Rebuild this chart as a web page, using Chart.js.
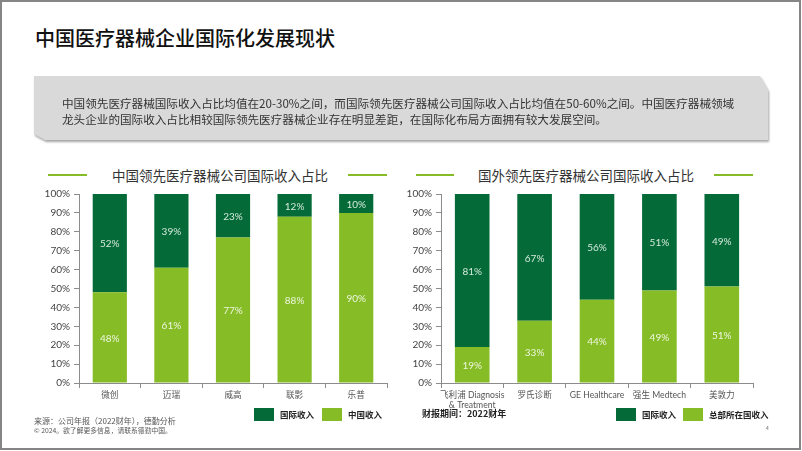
<!DOCTYPE html>
<html>
<head>
<meta charset="utf-8">
<script src="https://cdn.jsdelivr.net/npm/chart.js@4.4.1/dist/chart.umd.min.js"></script>
<style>
  html, body { margin:0; padding:0; background:#fff; }
  body { width:802px; height:451px; position:relative; overflow:hidden; font-family: Lato, 'Noto Sans CJK SC', sans-serif; }
  .frame { position:absolute; left:0; top:0; width:801px; height:450px; border:2px solid #858585; box-sizing:border-box; }
  .title { position:absolute; left:35px; top:24px; font-size:20px; font-weight:500; color:#111; font-family:'Noto Sans CJK SC', sans-serif; white-space:nowrap; line-height:28px; }
  .boxwrap { position:absolute; left:34px; top:76px; width:734px; height:64px; filter: drop-shadow(1px 2px 1px rgba(0,0,0,0.35)); }
  .box { width:100%; height:100%; background:#d9d9d9; clip-path: polygon(0 0, 726px 0, 734px 14px, 734px 100%, 11px 100%, 0 58px); }
  .boxtext { position:absolute; left:28px; top:19px; font-size:11.6px; line-height:16px; color:#333; white-space:nowrap; font-family:'Noto Sans CJK SC', sans-serif; }
  .ctitle { position:absolute; top:165px; font-size:13.5px; color:#333; white-space:nowrap; line-height:20px; font-family:'Noto Sans CJK SC', sans-serif; }
  .gline { position:absolute; height:2px; background:#86bc25; top:174px; }
  canvas { position:absolute; }
  .leg { position:absolute; font-size:8.5px; font-weight:bold; color:#222; line-height:13px; white-space:nowrap; font-family:'Noto Sans CJK SC', sans-serif; }
  .sw { position:absolute; width:20px; height:13px; top:408px; }
  .note { position:absolute; color:#555; white-space:nowrap; font-family:'Noto Sans CJK SC', sans-serif; }
</style>
</head>
<body>
<div class="frame"></div>
<div class="title">中国医疗器械企业国际化发展现状</div>
<div class="boxwrap"><div class="box"></div>
  <div class="boxtext">中国领先医疗器械国际收入占比均值在20-30%之间，而国际领先医疗器械公司国际收入占比均值在50-60%之间。中国医疗器械领域<br>龙头企业的国际收入占比相较国际领先医疗器械企业存在明显差距，在国际化布局方面拥有较大发展空间。</div>
</div>

<div class="gline" style="left:48px;width:39px;"></div>
<div class="ctitle" style="left:112px;">中国领先医疗器械公司国际收入占比</div>
<div class="gline" style="left:348px;width:39px;"></div>

<div class="gline" style="left:416px;width:38px;"></div>
<div class="ctitle" style="left:478px;">国外领先医疗器械公司国际收入占比</div>
<div class="gline" style="left:714px;width:39px;"></div>

<canvas id="c1" width="360" height="229" style="left:35px;top:184px;width:360px;height:229px;"></canvas>
<canvas id="c2" width="360" height="229" style="left:400px;top:184px;width:360px;height:229px;"></canvas>

<div class="sw" style="left:254px;background:#046a38;"></div>
<div class="leg" style="left:280px;top:408px;">国际收入</div>
<div class="sw" style="left:322px;background:#86bc25;"></div>
<div class="leg" style="left:348px;top:408px;">中国收入</div>

<div class="sw" style="left:616px;background:#046a38;"></div>
<div class="leg" style="left:642px;top:408px;">国际收入</div>
<div class="sw" style="left:683px;background:#86bc25;"></div>
<div class="leg" style="left:709px;top:408px;">总部所在国收入</div>

<div class="note" style="left:34px;top:415px;font-size:8px;line-height:12px;">来源：公司年报（2022财年），德勤分析</div>
<div class="note" style="left:34px;top:425px;font-size:6.8px;line-height:10px;">© 2024。欲了解更多信息，请联系德勤中国。</div>
<div class="note" style="left:422px;top:407px;font-size:9px;line-height:14px;font-weight:bold;color:#222;">财报期间：2022财年</div>
<div class="note" style="left:766px;top:424px;font-size:5px;line-height:8px;color:#666;">4</div>

<script>
// ---- Data ----
const cnCategories = ['微创', '迈瑞', '威高', '联影', '乐普'];
const cnDomestic = [48, 61, 77, 88, 90];
const cnIntl = [52, 39, 23, 12, 10];

const globalCategories = [['飞利浦 Diagnosis', '& Treatment'], '罗氏诊断', 'GE Healthcare', '强生 Medtech', '美敦力'];
const globalHome = [19, 33, 44, 49, 51];
const globalIntl = [81, 67, 56, 51, 49];

const yTicks = [0, 10, 20, 30, 40, 50, 60, 70, 80, 90, 100];

const DARK = '#046a38';
const LIGHT = '#86bc25';
const FONT = "Lato, 'Noto Sans CJK SC', sans-serif";

const labelPlugin = {
  id: 'segLabels',
  afterDatasetsDraw(chart) {
    const ctx = chart.ctx;
    ctx.save();
    ctx.font = '10px ' + FONT;
    ctx.textAlign = 'center';
    ctx.textBaseline = 'middle';
    chart.data.datasets.forEach((ds, i) => {
      const meta = chart.getDatasetMeta(i);
      meta.data.forEach((el, j) => {
        const v = ds.data[j];
        const p = el.getProps(['x', 'y', 'base'], true);
        ctx.fillStyle = i === 0 ? '#eef6e0' : '#d6eadb';
        ctx.fillText(v + '%', p.x, (p.y + p.base) / 2 + 1);
      });
    });
    ctx.restore();
  }
};

function makeChart(id, cats, lightData, darkData, lightName, darkName, yWidth, rightPad) {
  return new Chart(document.getElementById(id), {
    type: 'bar',
    data: {
      labels: cats,
      datasets: [
        { label: lightName, data: lightData, backgroundColor: LIGHT, barPercentage: 0.555, categoryPercentage: 1 },
        { label: darkName, data: darkData, backgroundColor: DARK, barPercentage: 0.555, categoryPercentage: 1 }
      ]
    },
    options: {
      responsive: false,
      animation: false,
      devicePixelRatio: 1,
      layout: { padding: { top: 6, right: rightPad, left: 0, bottom: 0 } },
      plugins: { legend: { display: false }, tooltip: { enabled: false } },
      scales: {
        x: {
          stacked: true,
          grid: { display: true, drawOnChartArea: false, drawTicks: true, tickLength: 5, color: '#8c8c8c', offset: true },
          border: { display: true, color: '#8c8c8c' },
          ticks: { color: '#555', font: { size: 8.6, family: FONT }, padding: 2, maxRotation: 0, autoSkip: false },
          afterFit(s) { s.height = 30; }
        },
        y: {
          stacked: true,
          min: 0, max: 100,
          afterBuildTicks(s) { s.ticks = yTicks.map(v => ({ value: v })); },
          grid: { display: true, drawOnChartArea: false, drawTicks: true, tickLength: 5, color: '#8c8c8c' },
          border: { display: true, color: '#8c8c8c' },
          ticks: { color: '#444', font: { size: 10, family: FONT }, padding: 4, callback: v => v + '%' },
          afterFit(s) { s.width = yWidth; }
        }
      }
    },
    plugins: [labelPlugin]
  });
}

makeChart('c1', cnCategories, cnDomestic, cnIntl, '中国收入', '国际收入', 44, 8);
makeChart('c2', globalCategories, globalHome, globalIntl, '总部所在国收入', '国际收入', 41, 7);
</script>
</body>
</html>
